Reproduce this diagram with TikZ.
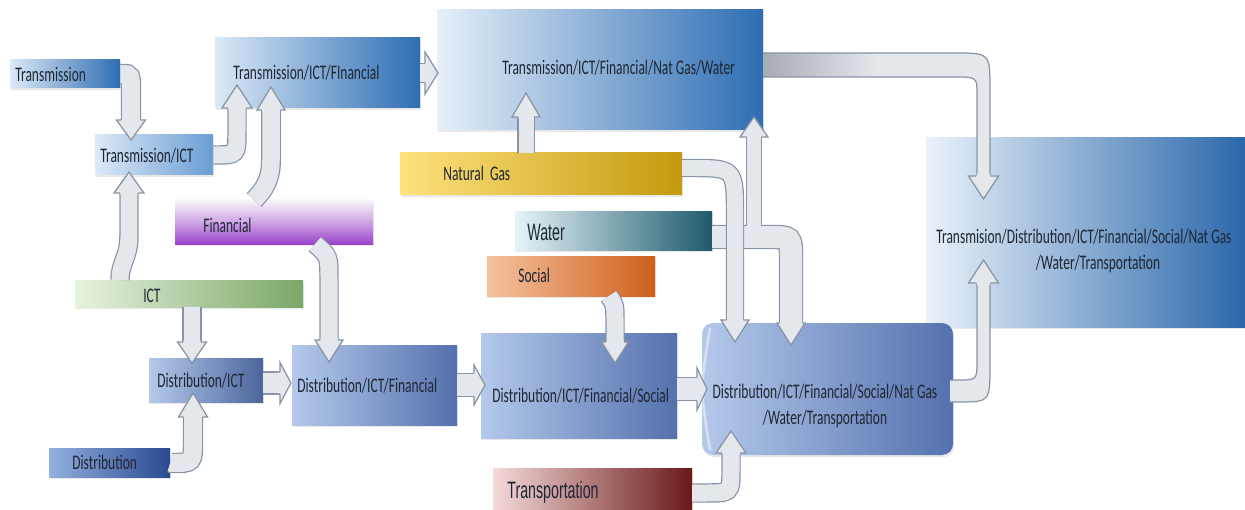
\documentclass[tikz,border=0pt]{standalone}
\usepackage{fontspec}
\setmainfont{Carlito}[FakeStretch=0.65]
\newfontfamily\narrowfont{Liberation Sans}[FakeStretch=0.6]
\usetikzlibrary{fit,shadows}
\definecolor{afill}{HTML}{E4E7EC}
\definecolor{aedge}{HTML}{8794A6}
\definecolor{adark}{HTML}{A6ABB4}
\definecolor{bluL}{HTML}{DCE9F6}
\definecolor{bluR}{HTML}{2E6DB3}
\definecolor{bluM}{HTML}{6A9DD3}
\definecolor{disL}{HTML}{B4C9EA}
\definecolor{disR}{HTML}{5471AE}
\definecolor{ddkL}{HTML}{93B0DF}
\definecolor{ddkR}{HTML}{2A4990}
\definecolor{ngL}{HTML}{FFE27E}
\definecolor{ngR}{HTML}{C49A0E}
\definecolor{waL}{HTML}{E6F4F8}
\definecolor{waR}{HTML}{1E5A6C}
\definecolor{soL}{HTML}{F5C2A0}
\definecolor{soR}{HTML}{CF5F1A}
\definecolor{ictL}{HTML}{E8F2E0}
\definecolor{ictR}{HTML}{7AA766}
\definecolor{trL}{HTML}{F5DADA}
\definecolor{trR}{HTML}{6A1818}
\definecolor{fiT}{HTML}{F8F5FA}
\definecolor{fiB}{HTML}{9A44CA}
\definecolor{txtc}{HTML}{1E2733}
\newcommand\fs{\fontsize{11.8}{14.5}\selectfont}
\tikzset{
  box/.style={inner sep=0pt, draw=none,
    drop shadow={shadow xshift=0.6pt, shadow yshift=-1.2pt, opacity=0.18}},
  txt/.style={inner sep=0pt, anchor=west, text=txtc, font=\fs},
  sh/.style={draw=aedge, line width=0.7pt, double=afill, double distance=#1},
  hedge/.style={draw=aedge, line width=0.7pt, line join=miter},
  pics/ahead/.style n args={3}{code={
    \fill[afill] (-2,{-#3+0.8}) -- (0,{-#3+0.8}) -- (0,-#2) -- (#1,0) -- (0,#2) -- (0,{#3-0.8}) -- (-2,{#3-0.8}) -- cycle;
    \draw[hedge] (0,-#3) -- (0,-#2) -- (#1,0) -- (0,#2) -- (0,#3);
  }}
}
\begin{document}
\begin{tikzpicture}[x=0.02cm, y=-0.02cm]
\path[use as bounding box] (0,0) rectangle (1245,510);

% ---------- boxes ----------
\node[box, fit={(10,60) (120,88)}, left color=bluL, right color=bluR] (trans) {};
\node[box, fit={(95,135) (213,175)}, left color=bluL, right color=bluM] (tict) {};
\node[box, fit={(215,38) (420,108)}, left color=bluL, right color=bluR] (tif) {};
\node[box, fit={(437,10) (763,130)}, left color=bluL!70!white, right color=bluR] (top) {};
\node[box, fit={(926,138) (1245,327)}, left color=bluL!60!white, right color=bluR!95!black] (final) {};
\node[box, fit={(400,153) (682,195)}, left color=ngL, right color=ngR] (ng) {};
\node[box, fit={(515,211) (712,250)}, left color=waL, right color=waR] (water) {};
\node[box, fit={(487,256) (655,296)}, left color=soL, right color=soR] (social) {};
\node[box, fit={(175,200) (373,244)}, top color=fiT, bottom color=fiB, middle color=fiT!55!fiB] (fin) {};
\node[box, fit={(75,280) (303,307)}, left color=ictL, right color=ictR] (ict) {};
\node[box, fit={(149,358) (263,402)}, left color=disL, right color=disR!90!black] (dict) {};
\node[box, fit={(49,448) (170,477)}, left color=ddkL, right color=ddkR] (dist) {};
\node[box, fit={(292,345) (457,425)}, left color=disL, right color=disR] (dif) {};
\node[box, fit={(481,333) (677,438)}, left color=disL, right color=disR] (difs) {};
\node[box, fit={(702,323) (953,455)}, rounded corners=0.22cm, left color=disL, right color=disR] (big) {};
\draw[white, opacity=0.45, line width=1.5pt] (710,328) .. controls (700,389) .. (710,450);
\node[box, fit={(493,468) (692,514)}, left color=trL, right color=trR] (transp) {};

% ---------- texts ----------
\node[txt] (l-trans) at (15,74) {Transmission};
\node[txt] (l-tict) at (100,156) {Transmission/ICT};
\node[txt] (l-tif) at (233,73) {Transmission/ICT/FInancial};
\node[txt] (l-top) at (502,68) {Transmission/ICT/Financial/Nat Gas/Water};
\node[txt] (l-ng) at (443,173) {Natural\ \ Gas};
\node[txt, font=\narrowfont\fontsize{13.5}{16}\selectfont] (l-water) at (527,232) {Water};
\node[txt] (l-social) at (518,275) {Social};
\node[txt] (l-fin) at (203,225) {Financial};
\node[txt] (l-ict) at (143,296) {ICT};
\node[txt] (l-dict) at (157,381) {Distribution/ICT};
\node[txt] (l-dist) at (72,462) {Distribution};
\node[txt] (l-dif) at (297,386) {Distribution/ICT/Financial};
\node[txt] (l-difs) at (492,396) {Distribution/ICT/Financial/Social};
\node[txt, anchor=center, align=center] (l-big) at (825,406) {Distribution/ICT/Financial/Social/Nat Gas\\/Water/Transportation};
\node[txt, font=\narrowfont\fontsize{13.5}{16}\selectfont] (l-transp) at (507,492) {Transportation};
\node[txt, anchor=center, align=center] (l-final) at (1084,251) {Transmision/Distribution/ICT/Financial/Social/Nat Gas\\\hspace*{0.56cm}/Water/Transportation};

% ---------- arrow shafts ----------
% Transmission -> Transmission/ICT
\draw[sh=0.36cm] (trans.east) -- (122,74) .. controls (131,74) .. (131,95) -- (131,120);
% Transmission/ICT -> T/ICT/Financial
\draw[sh=0.34cm] (tict.east) -- (215,155) .. controls (237,155) .. (237,132) -- (237,108);
% ICT -> Transmission/ICT
\draw[sh=0.34cm] (120,280) .. controls (120,262) and (129,258) .. (129,235) -- (129,193);
% Financial -> T/ICT/Financial
\draw[sh=0.35cm] (254,200) .. controls (264,190) and (271,180) .. (271,160) -- (271,110);
% T/ICT/Financial -> top
\draw[sh=0.36cm] (tif.east) -- (425,73);
% Natural Gas -> top
\draw[sh=0.30cm] (526,153) -- (526,117);
% top -> final (wide tube, gray gradient)
\path[left color=adark, right color=afill, middle color=afill]
  (763,53) -- (955,53) .. controls (990,53) .. (990,90) -- (990,176)
  -- (977,176) -- (977,95) .. controls (977,77) .. (955,77) -- (763,77) -- cycle;
\draw[hedge] (763,53) -- (955,53) .. controls (990,53) .. (990,90) -- (990,176);
\draw[hedge] (763,77) -- (955,77) .. controls (977,77) .. (977,95) -- (977,176);
% big -> final
\path[fill=afill] (950,380) -- (958,380) .. controls (977,380) .. (977,360) -- (977,282)
  -- (990,282) -- (990,365) .. controls (990,402) .. (958,402) -- (950,402) -- cycle;
\draw[hedge] (950,380) -- (958,380) .. controls (977,380) .. (977,360) -- (977,283);
\draw[hedge] (950,402) -- (958,402) .. controls (990,402) .. (990,365) -- (990,283);
% ICT -> Distribution/ICT
\draw[sh=0.34cm] (192,307) -- (192,342);
% Distribution -> Distribution/ICT
\draw[sh=0.36cm] (dist.east) -- (172,463) .. controls (193,463) .. (193,440) -- (193,417);
% Financial -> D/I/F
\draw[sh=0.34cm] (315,244) .. controls (329,256) .. (329,280) -- (329,340);
% D/ICT -> D/I/F
\draw[sh=0.42cm] (263,383) -- (280,383);
% D/I/F -> D/I/F/S
\draw[sh=0.44cm] (dif.east) -- (474,385);
% Social -> D/I/F/S
\draw[sh=0.34cm] (609,296) .. controls (615,305) .. (615,322) -- (615,342);
% D/I/F/S -> big
\draw[sh=0.44cm] (677,389) -- (697,389);
% Transportation -> big
\draw[sh=0.34cm] (692,493) -- (705,493) .. controls (731,493) .. (731,470) -- (731,453);
% Water -> big (wide)
\draw[sh=0.44cm] (712,237) -- (770,237) .. controls (791,237) .. (791,258) -- (791,323);
% Water -> top (branch)
\draw[sh=0.28cm] (754,226) -- (754,137);
\fill[afill] (747.6,224) rectangle (760.4,229);
% Natural Gas -> big
\draw[sh=0.32cm] (682,168) -- (690,168) .. controls (735,168) .. (735,215) -- (735,320);

% ---------- arrow heads ----------
\pic[rotate=-90] at (131,120) {ahead={20}{14.5}{9.6}};
\pic[rotate=90] at (237,108) {ahead={23}{15}{9.1}};
\pic[rotate=90] at (129,193) {ahead={21}{15}{9.1}};
\pic[rotate=90] at (271,110) {ahead={23}{14}{9.4}};
\pic at (425,73) {ahead={13}{21}{9.6}};
\pic[rotate=90] at (526,117) {ahead={24}{14}{8.1}};
\pic[rotate=-90] at (983.5,176) {ahead={23}{15}{7.1}};
\pic[rotate=90] at (983.5,283) {ahead={23}{15}{7.1}};
\pic[rotate=-90] at (192,342) {ahead={21}{14.5}{9.1}};
\pic[rotate=90] at (193,417) {ahead={24}{14.5}{9.6}};
\pic[rotate=-90] at (329,340) {ahead={22}{14}{9.1}};
\pic at (280,383) {ahead={11}{20.5}{11.1}};
\pic at (474,385) {ahead={11}{20}{11.6}};
\pic[rotate=-90] at (615,342) {ahead={21}{13.5}{9.1}};
\pic at (697,389) {ahead={10}{21}{11.6}};
\pic[rotate=90] at (731,453) {ahead={22}{15}{9.1}};
\pic[rotate=-90] at (791,323) {ahead={22}{14}{11.6}};
\pic[rotate=90] at (754,137) {ahead={20}{14}{7.6}};
\pic[rotate=-90] at (735,320) {ahead={22}{14}{8.6}};
\end{tikzpicture}
\end{document}
